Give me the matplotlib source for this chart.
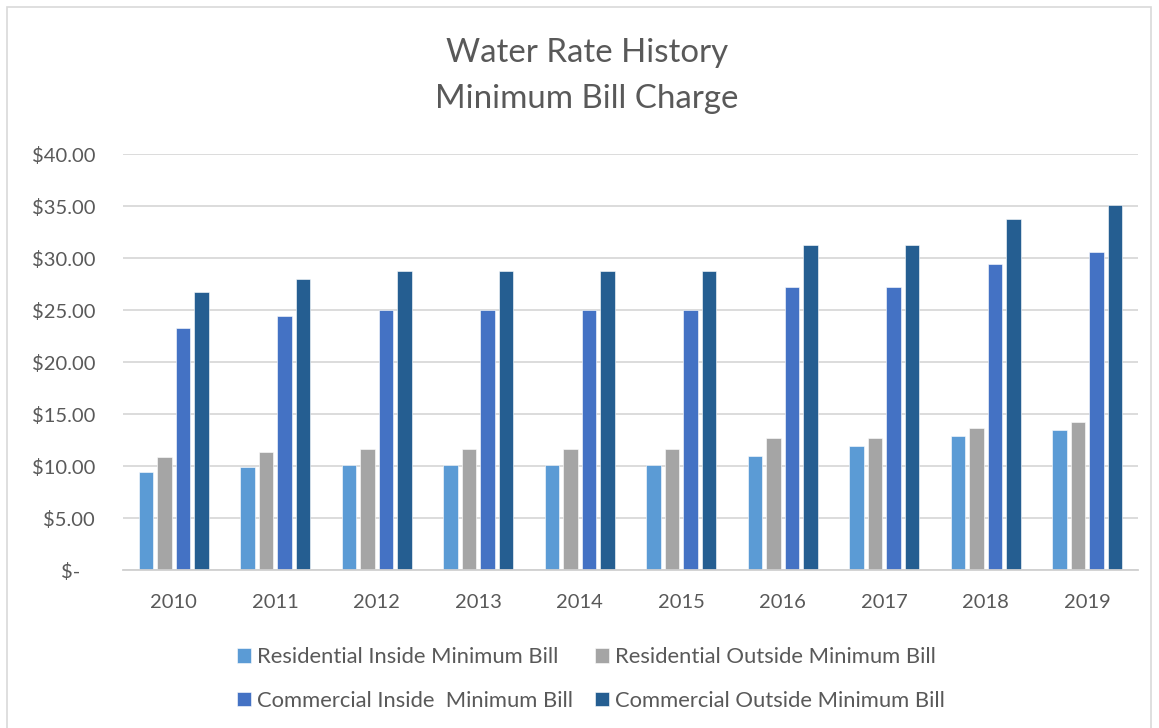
"""
Water rate history chart - minimum bill charge by year
"""
import matplotlib
matplotlib.use('Agg')
import matplotlib.pyplot as plt
import matplotlib.patches as mpatches
import numpy as np

years = ['2010', '2011', '2012', '2013', '2014', '2015', '2016', '2017', '2018', '2019']
res_inside = [9.45, 9.89, 10.11, 10.11, 10.11, 10.11, 10.97, 11.96, 12.92, 13.46]
res_outside = [10.88, 11.39, 11.65, 11.65, 11.65, 11.65, 12.66, 12.66, 13.68, 14.19]
comm_inside = [23.29, 24.41, 25.00, 25.00, 25.00, 25.00, 27.18, 27.18, 29.38, 30.56]
comm_outside = [26.74, 28.00, 28.74, 28.74, 28.74, 28.74, 31.26, 31.26, 33.75, 35.09]

series_labels = ['Residential Inside Minimum Bill', 'Residential Outside Minimum Bill',
                 'Commercial Inside  Minimum Bill', 'Commercial Outside Minimum Bill']
series_colors = ['#5B9BD5', '#A5A5A5', '#4472C4', '#255E91']
y_ticks = [0, 5, 10, 15, 20, 25, 30, 35, 40]

FONT = ['Lato', 'DejaVu Sans']
TEXT_COLOR = '#595959'
plt.rcParams['font.family'] = FONT

W, H = 1159, 728
fig = plt.figure(figsize=(W / 100, H / 100), dpi=100)
ax = fig.add_axes([123 / W, 1 - 570 / H, (1138 - 123) / W, (570 - 154) / H])

# outer chart border
fig.patches.append(mpatches.Rectangle((7 / W, -0.05), (1151 - 7) / W, 1.05 - 7 / H,
                                      transform=fig.transFigure, fill=False,
                                      edgecolor='#D9D9D9', linewidth=1.2))

x = np.arange(len(years))
pitch = 0.182
width = 0.145
all_series = [res_inside, res_outside, comm_inside, comm_outside]
handles = []
for i, (vals, color, label) in enumerate(zip(all_series, series_colors, series_labels)):
    bars = ax.bar(x + (i - 1.5) * pitch, vals, width, color=color, label=label,
                  edgecolor='white', linewidth=0.4, zorder=3)
    handles.append(bars)

ax.set_xlim(-0.5, len(years) - 0.5)
ax.set_ylim(0, 40)
ax.set_yticks(y_ticks)
# accounting-style zero label sits a little left of the others
ax.set_yticklabels(['$-   ' if v == 0 else f'${v:.2f}' for v in y_ticks])
ax.set_xticks(x)
ax.set_xticklabels(years)
ax.tick_params(axis='both', length=0, labelsize=14.5, colors=TEXT_COLOR)
ax.tick_params(axis='y', pad=20)
ax.tick_params(axis='x', pad=17)
ax.grid(axis='y', color='#D9D9D9', linewidth=1.3, zorder=0)
for side in ['top', 'right', 'left']:
    ax.spines[side].set_visible(False)
ax.spines['bottom'].set_color('#D0D0D0')
ax.spines['bottom'].set_linewidth(1.3)
ax.spines['bottom'].set_zorder(4)

fig.text(0.5065, 1 - 53 / H, 'Water Rate History', ha='center', va='center',
         fontsize=23.8, color=TEXT_COLOR)
fig.text(0.5065, 1 - 99 / H, 'Minimum Bill Charge', ha='center', va='center',
         fontsize=23.8, color=TEXT_COLOR)

# legend: two rows, two columns (column-major ordering)
order = [0, 2, 1, 3]
leg = fig.legend([handles[i] for i in order], [series_labels[i] for i in order],
                 ncol=2, frameon=False, loc='center', bbox_to_anchor=(591 / W, 1 - 679 / H),
                 fontsize=15.8, handlelength=0.63, handleheight=0.63, handletextpad=0.3,
                 columnspacing=1.0, labelspacing=1.09, labelcolor=TEXT_COLOR)

fig.savefig('out.png', dpi=100)
